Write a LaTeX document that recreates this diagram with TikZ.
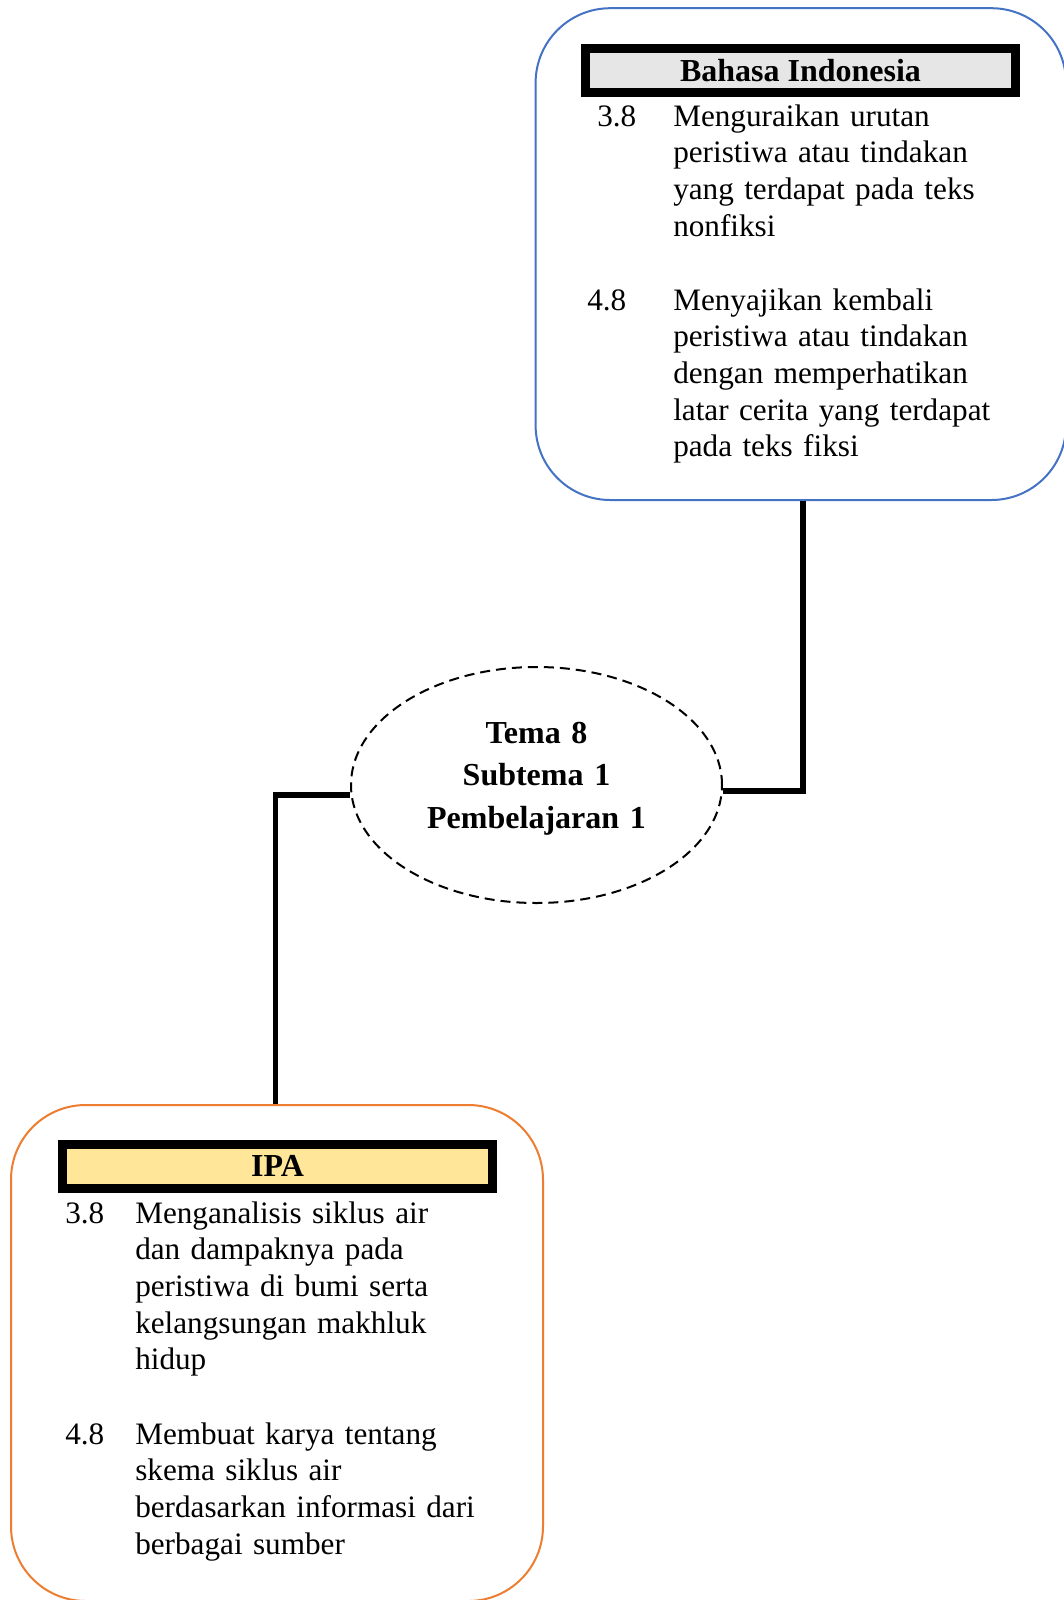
\documentclass[tikz,border=0pt]{standalone}
\usepackage{fontspec}
\setmainfont{Liberation Serif}
\usetikzlibrary{shapes.geometric}
\definecolor{bluebox}{HTML}{4472C4}
\definecolor{orangebox}{HTML}{ED7D31}
\definecolor{greyhead}{HTML}{E7E6E6}
\definecolor{goldhead}{HTML}{FFE699}
\begin{document}
\begin{tikzpicture}[x=0.75pt,y=-0.75pt,
  body/.style={font=\fontsize{23.4pt}{27.5pt}\selectfont, inner sep=0pt, anchor=base west},
  para/.style={body, text width=330pt, align=left},
  subjbox/.style={draw, line width=1.5pt, rounded corners=56pt, inner sep=0pt},
  headbar/.style={draw=black, line width=6.75pt, minimum width=322.5pt, minimum height=33pt, inner sep=0pt, font=\bfseries\fontsize{24pt}{27.5pt}\selectfont},
  link/.style={line width=4pt}]
\useasboundingbox (0,0) rectangle (1064,1600);
\fill[white] (0,0) rectangle (1064,1600);

% Bahasa Indonesia box
\node[subjbox, draw=bluebox, minimum width=397.8pt, minimum height=368.85pt] (bi) at (800.8,254.1) {};
\node[headbar, fill=greyhead] (bihead) at (800.5,70.5) {Bahasa Indonesia};
\node[body] (bi38) at (597,126) {3.8};
\node[para] (bi38t) at (673,126) {Menguraikan urutan\\peristiwa atau tindakan\\yang terdapat pada teks\\nonfiksi};
\node[body] (bi48) at (587,310) {4.8};
\node[para] (bi48t) at (673,310) {Menyajikan kembali\\peristiwa atau tindakan\\dengan memperhatikan\\latar cerita yang terdapat\\pada teks fiksi};

% central ellipse
\node[ellipse, draw, dash pattern=on 7.5pt off 4.5pt, line width=1.5pt, minimum width=278.25pt, minimum height=177pt, inner sep=0pt] (tema) at (536.5,785) {};
\node[font=\bfseries\fontsize{24pt}{32pt}\selectfont, text width=250pt, align=center, anchor=base, inner sep=0pt] (ttext) at (536.5,743) {Tema 8\\Subtema 1\\Pembelajaran 1};

% IPA box
\node[subjbox, draw=orangebox, minimum width=399pt, minimum height=372pt] (ipa) at (277,1353) {};
\node[headbar, fill=goldhead] (ipahead) at (277.5,1166) {IPA};
\node[body] (ipa38) at (65,1223) {3.8};
\node[para] (ipa38t) at (135,1223) {Menganalisis siklus air\\dan dampaknya pada\\peristiwa di bumi serta\\kelangsungan makhluk\\hidup};
\node[body] (ipa48) at (65,1444) {4.8};
\node[para] (ipa48t) at (135,1444) {Membuat karya tentang\\skema siklus air\\berdasarkan informasi dari\\berbagai sumber};

% connectors
\coordinate (rk) at (803,791);
\coordinate (lk) at (275.5,795);
\draw[link] (bi.south -| rk) -- (rk) -- (tema.east |- rk);
\draw[link] (tema.west |- lk) -- (lk) -- (lk |- ipa.north);
\end{tikzpicture}
\end{document}
